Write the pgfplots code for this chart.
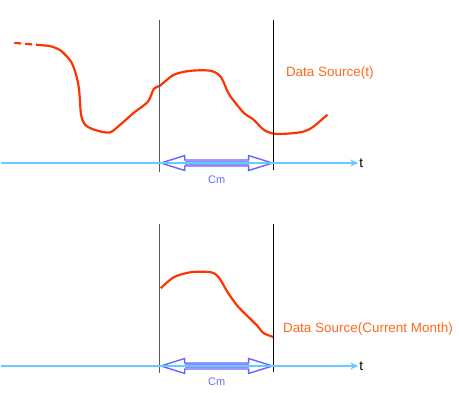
\documentclass[border=0pt]{standalone}
\usepackage{pgfplots}
\pgfplotsset{compat=1.18}
\usepackage{fontspec}
\setmainfont{Liberation Sans}
\usetikzlibrary{arrows.meta}
\definecolor{curve}{HTML}{FF3300}
\definecolor{lbl}{HTML}{FF6A1A}
\definecolor{axisblue}{HTML}{66CCFF}
\definecolor{arrowedge}{HTML}{6666FF}
\definecolor{arrowfill}{HTML}{8C8CFF}
\definecolor{cmcol}{HTML}{6A6AFF}
\begin{document}
\begin{tikzpicture}
\begin{axis}[
  width=459pt, height=394pt, scale only axis,
  xmin=0, xmax=459, ymin=0, ymax=394, y dir=reverse,
  axis lines=none, clip=false,
]
\addplot[draw=none] coordinates {(0,0) (459,394)};
% ---------- top panel ----------
\addplot[curve, line width=2.2pt, dash pattern=on 7pt off 4pt] coordinates {(13,43) (42,45.5)};
\addplot[curve, line width=2.2pt, smooth, tension=0.5] coordinates {
 (42,45.5) (50,46.5) (60,51) (70,62) (75,75) (78,90) (80,115) (84,125) (93,130) (108,133)
 (117,127) (133,113) (147,102) (153,89) (159,86) (173,75) (190,71) (210,71) (220,77)
 (227,92) (230,97) (243,113) (253,120) (263,130) (273,134) (287,134) (303,132) (313,127) (327,115)};
\addplot[black!65, line width=1.1pt] coordinates {(159,20) (159,172)};
\addplot[black, line width=0.7pt] coordinates {(273,20) (273,170)};
% double arrow top
\addplot[fill=white, draw=arrowedge, line width=1.4pt] coordinates {
 (160,163.5) (184,156) (184,160.5) (248,160.5) (248,156) (272,163.5) (248,171) (248,166.5) (184,166.5) (184,171) (160,163.5)} -- cycle;
\addplot[fill=arrowfill, draw=none] coordinates {(184,161) (248,161) (248,166) (184,166)} -- cycle;
\addplot[axisblue, line width=2.6pt, -{Stealth[length=8pt,width=7pt]}] coordinates {(0,163.5) (358,163.5)};
\addplot[only marks, mark=none, nodes near coords, point meta=explicit symbolic,
  nodes near coords style={anchor=center, font=\fontsize{11}{13}\selectfont, text=cmcol}]
  coordinates {(216,180) [Cm]};
\addplot[only marks, mark=none, nodes near coords, point meta=explicit symbolic,
  nodes near coords style={anchor=west, inner sep=2pt, font=\fontsize{13.5}{15}\selectfont, text=black}]
  coordinates {(357,164) [t] (357,367) [t]};
\addplot[only marks, mark=none, nodes near coords, point meta=explicit symbolic,
  nodes near coords style={anchor=west, font=\fontsize{13.5}{15}\selectfont, text=lbl}]
  coordinates {(282,73) [Data Source(t)] (279,330) [Data Source(Current Month)]};
% ---------- bottom panel ----------
\addplot[curve, line width=2.2pt, smooth, tension=0.5] coordinates {
 (160,289) (173,278) (190,273) (210,273) (218,278) (227,293) (237,307) (250,320) (257,327) (263,334) (273,338)};
\addplot[black!65, line width=1.1pt] coordinates {(159,225) (159,374)};
\addplot[black, line width=0.7pt] coordinates {(273,225) (273,373)};
\addplot[fill=white, draw=arrowedge, line width=1.4pt] coordinates {
 (160,367) (184,359.5) (184,364) (248,364) (248,359.5) (272,367) (248,374.5) (248,370) (184,370) (184,374.5) (160,367)} -- cycle;
\addplot[fill=arrowfill, draw=none] coordinates {(184,364.5) (248,364.5) (248,369.5) (184,369.5)} -- cycle;
\addplot[axisblue, line width=2.6pt, -{Stealth[length=8pt,width=7pt]}] coordinates {(0,367) (358,367)};
\addplot[only marks, mark=none, nodes near coords, point meta=explicit symbolic,
  nodes near coords style={anchor=center, font=\fontsize{11}{13}\selectfont, text=cmcol}]
  coordinates {(216,383) [Cm]};
\end{axis}
\end{tikzpicture}
\end{document}
